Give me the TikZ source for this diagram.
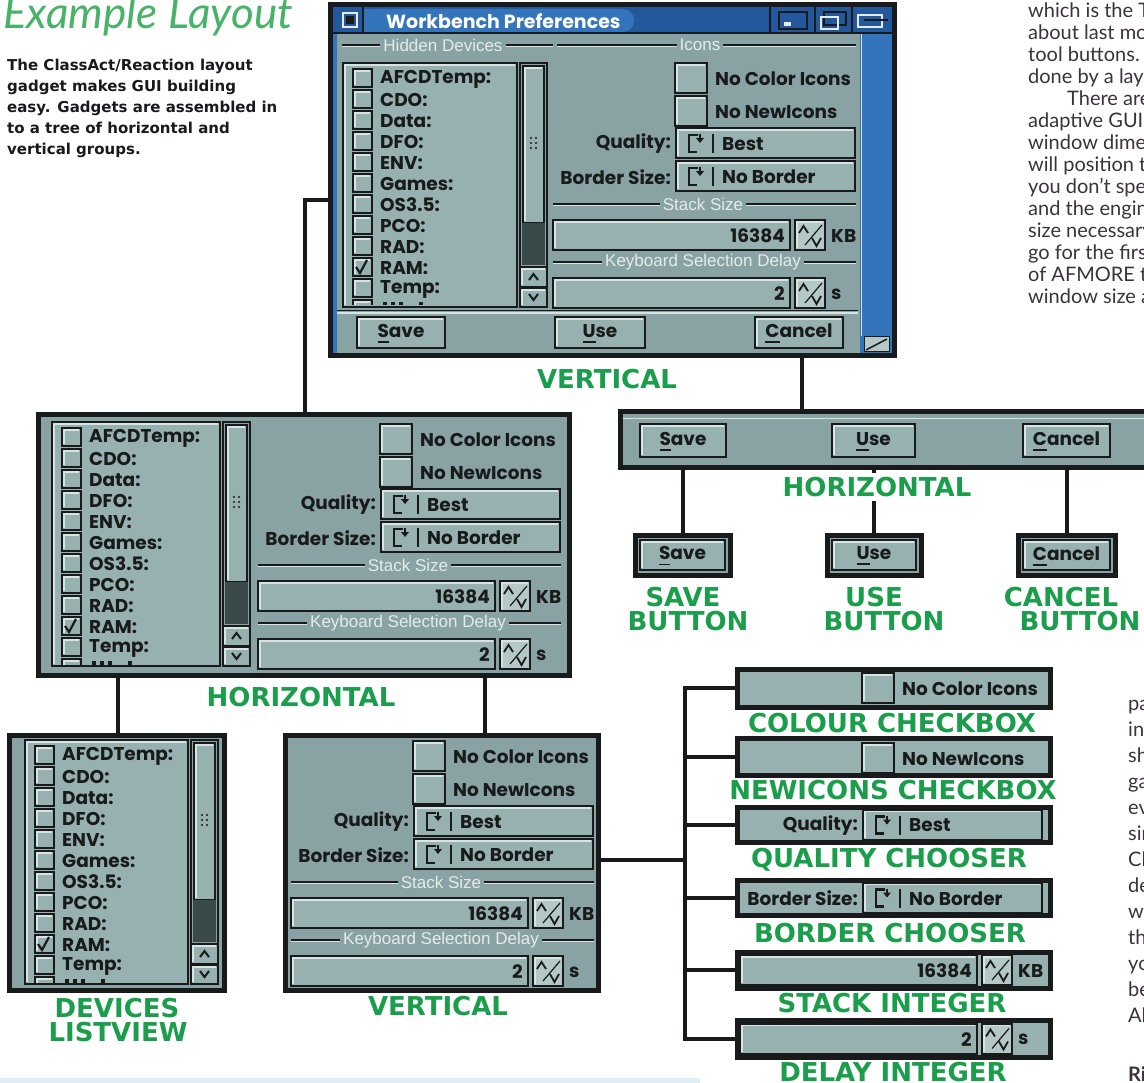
\documentclass[tikz,border=0pt]{standalone}
\usepackage{fontspec}
\setmainfont{Lato}
\newfontfamily\gfont{Poppins}
\newfontfamily\lblfont{DejaVu Sans}
\newfontfamily\thinfont{Liberation Sans}
\definecolor{ink}{RGB}{24,26,27}
\definecolor{winbg}{RGB}{137,163,164}
\definecolor{boxbg}{RGB}{150,177,176}
\definecolor{arrbg}{RGB}{180,201,199}
\definecolor{hilite}{RGB}{214,228,226}
\definecolor{engr}{RGB}{228,236,234}
\definecolor{knob}{RGB}{58,74,74}
\definecolor{tblue}{RGB}{36,88,156}
\definecolor{sblue}{RGB}{52,116,186}
\definecolor{lgreen}{RGB}{27,158,76}
\definecolor{tgreen}{RGB}{72,178,104}
\definecolor{bodytxt}{RGB}{58,52,58}
\definecolor{band}{RGB}{222,238,242}
\tikzset{
  gtxt/.style={font=\gfont\bfseries\fontsize{18.5}{18.5}\selectfont, text=ink, inner sep=0pt},
  ftxt/.style={font=\thinfont\fontsize{17}{17}\selectfont, text=engr, fill=winbg, inner xsep=3pt, inner ysep=1pt},
  glab/.style={font=\lblfont\bfseries\fontsize{26}{26}\selectfont, text=lgreen, inner sep=4pt},
  conn/.style={draw=ink, line width=4pt},
  winbox/.style={draw=ink, line width=5pt, fill=winbg, anchor=north west, inner sep=0pt, outer sep=0pt},
  bodyt/.style={font=\fontsize{20}{20}\selectfont, text=bodytxt, anchor=base west, inner sep=0pt},
  capt/.style={font=\lblfont\bfseries\fontsize{15}{15}\selectfont, text=ink, anchor=base west, inner sep=0pt},
}
\newcommand\amBevel[5][boxbg]{%
  \fill[#1] (#2,#3) rectangle (#4,#5);
  \draw[hilite, line width=1.5pt] (#2+2,#5-2) -- (#2+2,#3+2) -- (#4-2,#3+2);
  \draw[ink, line width=2pt] (#2,#3) rectangle (#4,#5);
}
\newcommand\amU[1]{\sbox0{#1}\rlap{\rule[-5.5pt]{\wd0}{1.8pt}}\usebox0}
\newcommand\amChk[3]{%
  \amBevel{#1}{#2}{#1+32}{#2+30}
  \node[gtxt, anchor=west] at (#1+40,#2+16) {#3};
}
\newcommand\amChoose[3]{%
  \node[gtxt, anchor=east] at (671,#1+16) {#2};
  \amBevel{676}{#1}{855}{#1+30}
  \draw[ink, line width=2.5pt] (698,#1+7) -- (689,#1+7) -- (689,#1+24) -- (697,#1+24);
  \fill[ink] (696,#1+10) -- (704,#1+10) -- (700,#1+15) -- cycle;
  \draw[ink, line width=2pt] (700,#1+6) -- (700,#1+11);
  \draw[ink, line width=1.5pt] (713,#1+6) -- (713,#1+25);
  \node[gtxt, anchor=west] at (722,#1+16) {#3};
}
\newcommand\amInt[3]{%
  \amBevel{553}{#1}{790}{#1+30}
  \node[gtxt, anchor=east] at (785,#1+16) {#2};
  \amBevel[arrbg]{795}{#1}{825}{#1+30}
  \draw[ink, line width=1.8pt] (799,#1+13) -- (803.5,#1+6) -- (808,#1+13);
  \draw[ink, line width=1.2pt] (805,#1+25) -- (822,#1+5);
  \draw[ink, line width=1.8pt] (812,#1+18) -- (816.5,#1+26) -- (821,#1+18);
  \node[gtxt, anchor=west] at (831,#1+16) {#3};
}
\newcommand\amGrp[5]{%
  \draw[ink, line width=1.5pt] (#2,#1) -- (#3,#1);
  \draw[hilite, line width=1pt] (#2,#1+1.8) -- (#3,#1+1.8);
  \node[ftxt] at (#4,#1) {#5};
}
\newcommand\amBtn[5]{%
  \amBevel{#1}{#2}{#3}{#4}
  \node[gtxt] at ({(#1+#3)/2},{(#2+#4)/2+1}) {#5};
}
\newcommand\amPanel{%
  \amChk{675}{63}{No Color Icons}
  \amChk{675}{96}{No NewIcons}
  \amChoose{128}{Quality:}{Best}
  \amChoose{161}{Border Size:}{No Border}
  \amGrp{204}{553}{856}{703}{Stack Size}
  \amInt{220}{16384}{KB}
  \amGrp{262}{553}{856}{703}{Keyboard Selection Delay}
  \amInt{278}{2}{s}
}
\newcommand\amList[3]{%
  \begin{scope}[shift={(#1,#2)}]
    \amBevel{0}{0}{#3}{244}
    \begin{scope}
      \clip (2,2) rectangle (#3-2,242);
      \foreach \nm [count=\i from 0] in {AFCDTemp:,CDO:,Data:,DFO:,ENV:,Games:,OS3.5:,PCO:,RAD:,RAM:,Temp:} {
        \amBevel{10}{6+21*\i}{29}{24+21*\i}
        \node[gtxt, anchor=west] at (37,16+21*\i) {\nm};
      }
      \draw[ink, line width=2.2pt] (13,204) -- (17,210) -- (24,197);
      \amBevel{10}{237}{29}{255}
      \foreach \mx in {40,48,56,76} \fill[ink] (\mx,239) rectangle (\mx+3.5,243);
    \end{scope}
    \begin{scope}[shift={(#3+3,0)}]
      \fill[winbg] (0,0) rectangle (27,244);
      \amBevel{3}{3}{24}{160}
      \foreach \a in {-2.5,2.5} \foreach \b in {-5,0,5} \fill[ink] (13.5+\a,80+\b) circle (1.1);
      \fill[knob] (2,160) rectangle (25,202);
      \amBevel{0}{204}{27}{224}
      \draw[ink, line width=2pt] (9,217) -- (13.5,211) -- (18,217);
      \amBevel{0}{225}{27}{244}
      \draw[ink, line width=2pt] (9,231) -- (13.5,237) -- (18,231);
      \draw[ink, line width=2pt] (0,0) rectangle (27,244);
    \end{scope}
  \end{scope}
}
\begin{document}
\begin{tikzpicture}[x=1pt, y=-1pt]
\useasboundingbox (0,0) rectangle (1144,1083);
\fill[white] (0,0) rectangle (1144,1083);
\fill[band] (0,1078) rectangle (700,1083);

% ---- title and caption
\node[anchor=base west, inner sep=0pt, font=\itshape\fontsize{44}{44}\selectfont, text=tgreen] (title) at (3,29) {Example Layout};
\node[capt] (cap1) at (7,71) {The ClassAct/Reaction layout};
\node[capt] (cap2) at (7,92) {gadget makes GUI building};
\node[capt] (cap3) at (7,113) {easy. Gadgets are assembled in};
\node[capt] (cap4) at (7,134) {to a tree of horizontal and};
\node[capt] (cap5) at (7,155) {vertical groups.};

% ---- body text, right
\foreach \t [count=\i from 0] in {which is the To,about last mon,tool buttons. I,done by a layo,,adaptive GUIs,window dimer,will position th,you don't spe,and the engin,size necessary,go for the first,of AFMORE to,window size a}
  \node[bodyt] (bt\i) at (1028,18+22*\i) {\t};
\node[bodyt] (btx) at (1067,106) {There are};
\foreach \t [count=\i from 0] in {pa,in,sh,ga,ev,sin,Cl,de,wa,th,yo,be,Al}
  \node[bodyt] (bb\i) at (1128,710+26*\i) {\t};
\node[bodyt, font=\bfseries\fontsize{20}{20}\selectfont] (bri) at (1128,1081) {Ri};

% ---- top window
\node[winbox, minimum width=564pt, minimum height=351pt] (topwin) at (330,5) {};
\fill[tblue] (332,7) rectangle (892,33);
\fill[sblue, rounded corners=11pt] (364,9) rectangle (634,32);
\fill[sblue] (364,9) rectangle (390,32);
\draw[ink, line width=1.5pt] (363,7) -- (363,33) (770,7) -- (770,33) (815,7) -- (815,33) (852,7) -- (852,33) (332,33) -- (892,33);
\draw[engr, line width=1.5pt] (343,13) rectangle (357,27);
\fill[ink] (346,16) rectangle (354,24);
\draw[ink, line width=1.5pt] (779,12) rectangle (807,29);
\fill[engr] (784,22) rectangle (791,26);
\draw[ink, line width=1.5pt] (824,12) rectangle (846,25);
\draw[engr, line width=1.5pt] (821,17) rectangle (838,29);
\draw[engr, line width=1.5pt] (858,15) rectangle (882,27);
\draw[ink, line width=1.5pt] (864,20) -- (888,20);
\node[font=\gfont\bfseries\fontsize{19}{19}\selectfont, text=white, anchor=west, inner sep=0pt] (wtitle) at (386,21) {Workbench Preferences};
\fill[sblue] (860,34) rectangle (892,353);
\draw[hilite, line width=1pt] (861.5,34) -- (861.5,336);
\fill[sblue] (332,34) rectangle (337,353);
\fill[arrbg] (864,337) rectangle (889,352);
\draw[ink, line width=1pt] (864,337) rectangle (889,352);
\draw[ink, line width=1.5pt] (866,350) -- (887,339);
\amGrp{45}{342}{553}{443}{Hidden Devices}
\amGrp{45}{557}{856}{700}{Icons}
\amList{343}{63}{174}
\amPanel
\draw[ink, line width=1pt] (337,311) -- (858,311);
\draw[hilite, line width=1.2pt] (337,313) -- (858,313);
\amBtn{357}{317}{445}{348}{\amU{S}ave}
\amBtn{555}{317}{645}{348}{\amU{U}se}
\amBtn{755}{317}{843}{348}{\amU{C}ancel}
\draw[ink, line width=5pt] (topwin.north west) rectangle (topwin.south east);

% ---- middle (horizontal) window
\node[winbox, minimum width=531pt, minimum height=260.5pt] (midwin) at (38,414.5) {};
\begin{scope}
  \clip (40.5,417) rectangle (566.5,672.5);
  \amList{52}{422}{168}
  \begin{scope}[shift={(-295,361)}] \amPanel \end{scope}
\end{scope}
\draw[ink, line width=5pt] (midwin.north west) rectangle (midwin.south east);

% ---- devices listview window
\node[winbox, minimum width=215pt, minimum height=255pt] (devwin) at (9,735) {};
\begin{scope}
  \clip (11.5,737.5) rectangle (221.5,987.5);
  \amList{25}{740}{163}
\end{scope}
\draw[ink, line width=5pt] (devwin.north west) rectangle (devwin.south east);

% ---- bottom vertical window
\node[winbox, minimum width=313pt, minimum height=255pt] (vertwin) at (285,735) {};
\begin{scope}
  \clip (287.5,737.5) rectangle (595.5,987.5);
  \begin{scope}[shift={(-262,678)}] \amPanel \end{scope}
\end{scope}
\draw[ink, line width=5pt] (vertwin.north west) rectangle (vertwin.south east);

% ---- horizontal button bar
\node[winbox, minimum width=545pt, minimum height=55pt] (hbar) at (620,412) {};
\draw[hilite, line width=1.5pt] (623,418.5) -- (1144,418.5);
\amBtn{640}{424}{726}{457}{\amU{S}ave}
\amBtn{832}{424}{915}{457}{\amU{U}se}
\amBtn{1023}{424}{1110}{457}{\amU{C}ancel}

% ---- single buttons
\node[winbox, minimum width=95pt, minimum height=40pt] (bsave) at (635,535) {};
\amBtn{640}{540}{725}{570}{\amU{S}ave}
\node[winbox, minimum width=94pt, minimum height=40pt] (buse) at (827,535) {};
\amBtn{832}{540}{916}{570}{\amU{U}se}
\node[winbox, minimum width=97pt, minimum height=40pt] (bcancel) at (1018,535) {};
\amBtn{1023}{540}{1110}{570}{\amU{C}ancel}

% ---- right column strips
\node[winbox, fill=boxbg, minimum width=313pt, minimum height=38pt] (s1) at (737,669) {};
\begin{scope} \clip (739.5,671.5) rectangle (1047.5,704.5);
  \begin{scope}[shift={(187,610)}] \amChk{675}{63}{No Color Icons} \end{scope}
\end{scope}
\node[winbox, fill=boxbg, minimum width=313pt, minimum height=37pt] (s2) at (737,738) {};
\begin{scope} \clip (739.5,740.5) rectangle (1047.5,772.5);
  \begin{scope}[shift={(187,647)}] \amChk{675}{96}{No NewIcons} \end{scope}
\end{scope}
\node[winbox, fill=boxbg, minimum width=313pt, minimum height=35pt] (s3) at (737,807) {};
\begin{scope} \clip (739.5,809.5) rectangle (1047.5,839.5);
  \begin{scope}[shift={(187,681.5)}] \amChoose{128}{Quality:}{Best} \end{scope}
\end{scope}
\node[winbox, fill=boxbg, minimum width=313pt, minimum height=35pt] (s4) at (737,880) {};
\begin{scope} \clip (739.5,882.5) rectangle (1047.5,912.5);
  \begin{scope}[shift={(187,721.5)}] \amChoose{161}{Border Size:}{No Border} \end{scope}
\end{scope}
\node[winbox, fill=boxbg, minimum width=313pt, minimum height=36pt] (s5) at (737,952) {};
\begin{scope} \clip (739.5,954.5) rectangle (1047.5,985.5);
  \begin{scope}[shift={(187,735)}] \amInt{220}{16384}{KB} \end{scope}
\end{scope}
\node[winbox, fill=boxbg, minimum width=313pt, minimum height=37pt] (s6) at (737,1020) {};
\begin{scope} \clip (739.5,1022.5) rectangle (1047.5,1054.5);
  \begin{scope}[shift={(187,745.5)}] \amInt{278}{2}{s} \end{scope}
\end{scope}
\foreach \s in {s1,s2,s3,s4,s5,s6} \draw[ink, line width=5pt] (\s.north west) rectangle (\s.south east);

% ---- green labels
\node[glab] (lvert1) at (607,379) {VERTICAL};
\node[glab] (lhor1) at (301,697) {HORIZONTAL};
\node[glab] (lhor2) at (877,487) {HORIZONTAL};
\node[glab] (lsave) at (683,597) {SAVE};
\node[glab] (lsave2) at (688,621) {BUTTON};
\node[glab] (luse) at (874,597) {USE};
\node[glab] (luse2) at (884,621) {BUTTON};
\node[glab] (lcan) at (1061,597) {CANCEL};
\node[glab] (lcan2) at (1080,621) {BUTTON};
\node[glab] (ldev) at (117,1008) {DEVICES};
\node[glab] (ldev2) at (118,1032) {LISTVIEW};
\node[glab] (lvert2) at (438,1006) {VERTICAL};
\node[glab] (lc1) at (892,723) {COLOUR CHECKBOX};
\node[glab] (lc2) at (893,790) {NEWICONS CHECKBOX};
\node[glab] (lc3) at (889,860) {QUALITY CHOOSER};
\node[glab] (lc4) at (890,933) {BORDER CHOOSER};
\node[glab] (lc5) at (892,1003) {STACK INTEGER};
\node[glab] (lc6) at (893,1072) {DELAY INTEGER};

% ---- connectors
\coordinate (kL) at (305,200);
\coordinate (kT) at (802,0);
\coordinate (kD) at (118,0);
\coordinate (kV) at (485,0);
\coordinate (kR) at (685,0);
\coordinate (kM) at (685,860);
\draw[conn] (topwin.west |- kL) -| (midwin.north -| kL);
\draw[conn] (topwin.south -| kT) -- (hbar.north -| kT);
\draw[conn] (midwin.south -| kD) -- (devwin.north -| kD);
\draw[conn] (midwin.south -| kV) -- (vertwin.north -| kV);
\draw[conn] (hbar.south -| bsave) -- (bsave.north);
\draw[conn] (hbar.south -| buse) -- (lhor2.north -| buse);
\draw[conn] (lhor2.south -| buse) -- (buse.north);
\draw[conn] (hbar.south -| bcancel) -- (bcancel.north);
\draw[conn] (s1.west) -- (s1.west -| kR) -- (s6.west -| kR) -- (s6.west);
\foreach \s in {s2,s3,s4,s5} \draw[conn] (\s.west -| kR) -- (\s.west);
\draw[conn] (vertwin.east |- kM) -- (kM);
\end{tikzpicture}
\end{document}
